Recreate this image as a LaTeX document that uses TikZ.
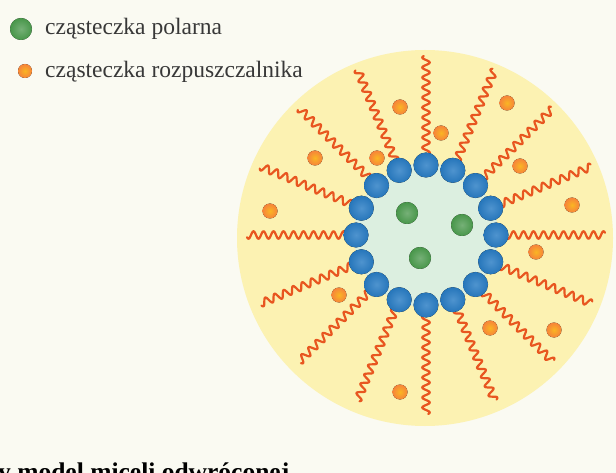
\documentclass[tikz,border=0pt]{standalone}
\usepackage{fontspec}
\setmainfont{Liberation Serif}
\usetikzlibrary{calc}

\definecolor{paper}{RGB}{250,250,242}
\definecolor{shell}{RGB}{252,242,178}
\definecolor{core}{RGB}{220,239,224}
\definecolor{headblue}{RGB}{40,124,196}
\definecolor{polargreen}{RGB}{72,150,74}
\definecolor{solvorange}{RGB}{246,132,58}
\definecolor{tailred}{RGB}{232,86,32}

\tikzset{
    legendtext/.style={anchor=base west, inner sep=0pt, text=black!78,
        font=\fontsize{23.5}{26}\selectfont},
    head/.style={shading=radial, inner color=headblue!82!white, outer color=headblue!95!black},
    polar/.style={shading=radial, inner color=polargreen!75!white, outer color=polargreen},
    solvent/.style={shading=radial, inner color=solvorange!60!yellow, outer color=solvorange},
    tail/.style={draw=tailred, line width=2.2pt, line cap=round, line join=round}
}

\begin{document}
\begin{tikzpicture}[x=1pt,y=-1pt]
        \clip (0,0) rectangle (616,473);
        \fill[paper] (0,0) rectangle (616,473);

        % legend
        \fill[polar] (21,29) circle[radius=11];
        \node[legendtext] at (45,35) (L1) {cząsteczka polarna};
        \fill[solvent] (25,71) circle[radius=7];
        \node[legendtext] at (45,78) (L2) {cząsteczka rozpuszczalnika};

        % micelle: shell, tails, core, heads
        \fill[shell] (425,238) circle[radius=188];
        \foreach \a in {0,22.5,...,337.5}
            \draw[tail, shift={(426,235)}, rotate=\a]
                plot[domain=76:179, samples=120, smooth] (\x, {3.8*sin(\x*36)});
        \fill[core] (426,235) circle[radius=72];
        \foreach \a in {0,22.5,...,337.5}
            \fill[head] ($(426,235)+(\a:70)$) circle[radius=12.5];

        % polar molecules in the core
        \foreach \p in {(407,213),(462,225),(420,258)}
            \fill[polar] \p circle[radius=11];

        % solvent molecules
        \foreach \p in {(400,107),(507,103),(441,133),(315,158),(377,158),(520,166),
                        (270,211),(572,205),(536,252),(339,295),(490,328),(554,330),(400,392)}
            \fill[solvent] \p circle[radius=7.5];

        \node[anchor=base west, inner sep=0pt, font=\bfseries\fontsize{25.5}{28}\selectfont]
            at (-2,480) (caption) {y model miceli odwróconej};
    \end{tikzpicture}
\end{document}
